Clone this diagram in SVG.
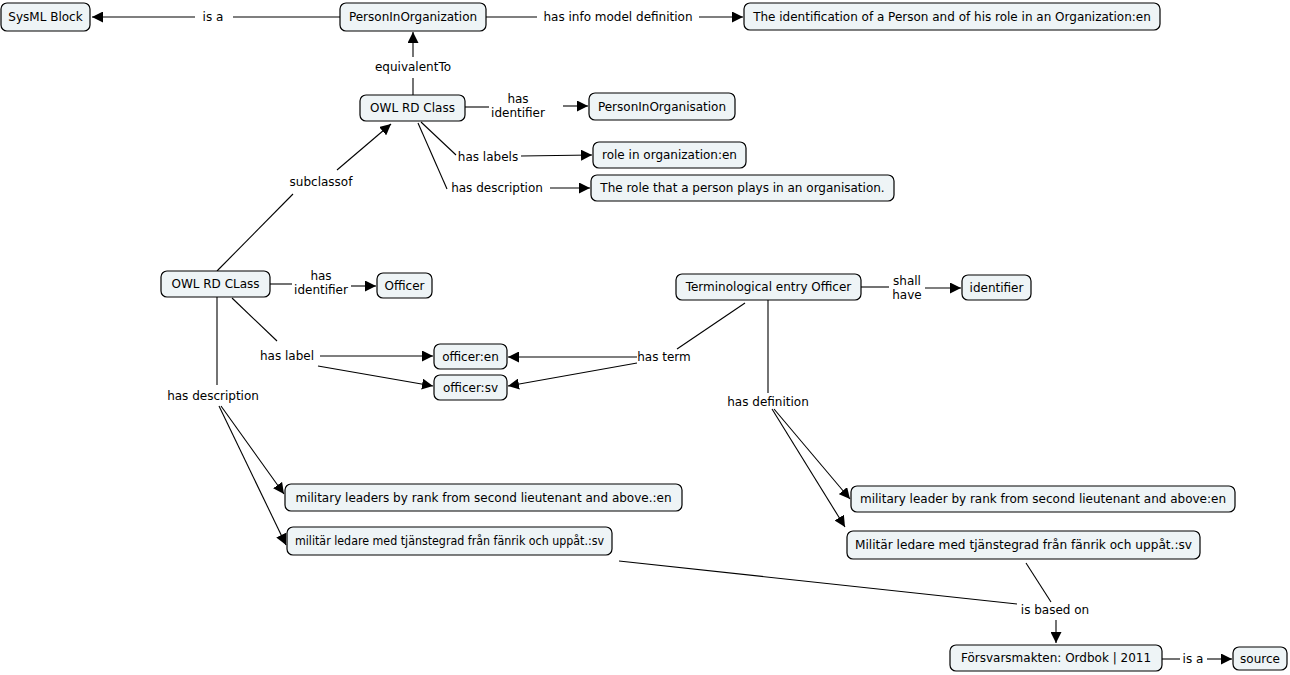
<svg xmlns="http://www.w3.org/2000/svg" width="1290" height="675" viewBox="0 0 1290 675">
<style>
.n rect{fill:#eef4f6;stroke:#000;stroke-width:1.2}
text{font-family:"DejaVu Sans",Verdana,sans-serif;font-size:12px;fill:#000;text-anchor:middle}
.c line{stroke:#000;stroke-width:1.1}
</style>
<defs>
<marker id="a" viewBox="0 0 10 10" refX="10" refY="5" markerWidth="11" markerHeight="11" markerUnits="userSpaceOnUse" orient="auto"><path d="M0,0 L10,5 L0,10 z" fill="#000"/></marker>
</defs>
<rect width="1290" height="675" fill="#fff"/>
<g class="c">
<line x1="340" y1="17" x2="233" y2="17"/><line x1="195" y1="17" x2="92" y2="17" marker-end="url(#a)"/>
<text x="213" y="21">is a</text>
<line x1="486" y1="17" x2="537" y2="17"/><line x1="699" y1="17" x2="743" y2="17" marker-end="url(#a)"/>
<text x="618" y="21">has info model definition</text>
<line x1="413" y1="95" x2="413" y2="78"/><line x1="413" y1="57" x2="413" y2="32" marker-end="url(#a)"/>
<text x="413" y="71">equivalentTo</text>
<line x1="465" y1="107" x2="489" y2="107"/><line x1="563" y1="106" x2="588" y2="106" marker-end="url(#a)"/>
<text x="518" y="103">has</text><text x="518" y="117">identifier</text>
<line x1="421" y1="122" x2="456" y2="155"/><line x1="521" y1="156" x2="592" y2="155" marker-end="url(#a)"/>
<text x="488" y="161">has labels</text>
<line x1="418" y1="123" x2="447" y2="189"/><line x1="550" y1="188" x2="590" y2="188" marker-end="url(#a)"/>
<text x="497" y="192">has description</text>
<line x1="217" y1="271" x2="293" y2="194"/><line x1="337" y1="170" x2="391" y2="124" marker-end="url(#a)"/>
<text x="321" y="186">subclassof</text>
<line x1="270" y1="284" x2="292" y2="284"/><line x1="351" y1="286" x2="376" y2="286" marker-end="url(#a)"/>
<text x="321" y="280">has</text><text x="321" y="294">identifier</text>
<line x1="232" y1="298" x2="277" y2="341"/>
<text x="287" y="360">has label</text>
<line x1="320" y1="356" x2="433" y2="356" marker-end="url(#a)"/>
<line x1="318" y1="366" x2="433" y2="386" marker-end="url(#a)"/>
<line x1="217" y1="297" x2="217" y2="385"/>
<text x="213" y="400">has description</text>
<line x1="221" y1="406" x2="284" y2="494" marker-end="url(#a)"/>
<line x1="219" y1="406" x2="286" y2="545" marker-end="url(#a)"/>
<line x1="861" y1="287" x2="889" y2="287"/><line x1="925" y1="288" x2="961" y2="288" marker-end="url(#a)"/>
<text x="907" y="285">shall</text><text x="907" y="299">have</text>
<line x1="745" y1="303" x2="677" y2="349"/>
<text x="664" y="361">has term</text>
<line x1="637" y1="357" x2="508" y2="357" marker-end="url(#a)"/>
<line x1="637" y1="363" x2="508" y2="386" marker-end="url(#a)"/>
<line x1="768" y1="300" x2="768" y2="393"/>
<text x="768" y="406">has definition</text>
<line x1="774" y1="409" x2="850" y2="499" marker-end="url(#a)"/>
<line x1="772" y1="409" x2="845" y2="527" marker-end="url(#a)"/>
<line x1="619" y1="561" x2="1017" y2="604"/>
<line x1="1026" y1="563" x2="1051" y2="602"/>
<text x="1055" y="614">is based on</text>
<line x1="1056" y1="620" x2="1056" y2="643" marker-end="url(#a)"/>
<line x1="1162" y1="659" x2="1180" y2="659"/><line x1="1207" y1="659" x2="1232" y2="659" marker-end="url(#a)"/>
<text x="1193" y="663">is a</text>
</g>
<g id="sysml" class="n"><rect x="1" y="3" width="89" height="28" rx="6"/><text x="45.5" y="21">SysML Block</text></g>
<g id="pio" class="n"><rect x="340" y="3" width="146" height="28" rx="6"/><text x="413" y="21">PersonInOrganization</text></g>
<g id="identdef" class="n"><rect x="744" y="3" width="416" height="27" rx="6"/><text x="952" y="20.5">The identification of a Person and of his role in an Organization:en</text></g>
<g id="owl1" class="n"><rect x="360" y="95" width="105" height="26" rx="6"/><text x="412.5" y="112">OWL RD Class</text></g>
<g id="pio2" class="n"><rect x="589" y="93" width="146" height="27" rx="6"/><text x="662" y="110.5">PersonInOrganisation</text></g>
<g id="role" class="n"><rect x="593" y="142" width="153" height="26" rx="6"/><text x="669.5" y="159">role in organization:en</text></g>
<g id="roledesc" class="n"><rect x="591" y="175" width="303" height="26" rx="6"/><text x="742.5" y="192">The role that a person plays in an organisation.</text></g>
<g id="owl2" class="n"><rect x="161" y="271" width="109" height="26" rx="6"/><text x="215.5" y="288">OWL RD CLass</text></g>
<g id="officer" class="n"><rect x="377" y="273" width="55" height="25" rx="6"/><text x="404.5" y="289.5">Officer</text></g>
<g id="term" class="n"><rect x="676" y="274" width="185" height="26" rx="6"/><text x="768.5" y="291">Terminological entry Officer</text></g>
<g id="identifier" class="n"><rect x="962" y="275" width="69" height="25" rx="6"/><text x="996.5" y="291.5">identifier</text></g>
<g id="offen" class="n"><rect x="434" y="344" width="73" height="25" rx="6"/><text x="470.5" y="360.5">officer:en</text></g>
<g id="offsv" class="n"><rect x="434" y="375" width="73" height="25" rx="6"/><text x="470.5" y="391.5">officer:sv</text></g>
<g id="milen" class="n"><rect x="285" y="484" width="397" height="27" rx="6"/><text x="483.5" y="501.5">military leaders by rank from second lieutenant and above.:en</text></g>
<g id="milsv" class="n"><rect x="287" y="527" width="325" height="28" rx="6"/><text x="449.5" y="545" textLength="309" lengthAdjust="spacingAndGlyphs">militär ledare med tjänstegrad från fänrik och uppåt.:sv</text></g>
<g id="milen2" class="n"><rect x="851" y="486" width="384" height="26" rx="6"/><text x="1043" y="503">military leader by rank from second lieutenant and above:en</text></g>
<g id="milsv2" class="n"><rect x="847" y="531" width="353" height="28" rx="6"/><text x="1023.5" y="549" textLength="337" lengthAdjust="spacingAndGlyphs">Militär ledare med tjänstegrad från fänrik och uppåt.:sv</text></g>
<g id="forsvar" class="n"><rect x="950" y="645" width="212" height="26" rx="6"/><text x="1056" y="662">Försvarsmakten: Ordbok | 2011</text></g>
<g id="source" class="n"><rect x="1233" y="647" width="54" height="23" rx="6"/><text x="1260" y="662.5">source</text></g>
</svg>
